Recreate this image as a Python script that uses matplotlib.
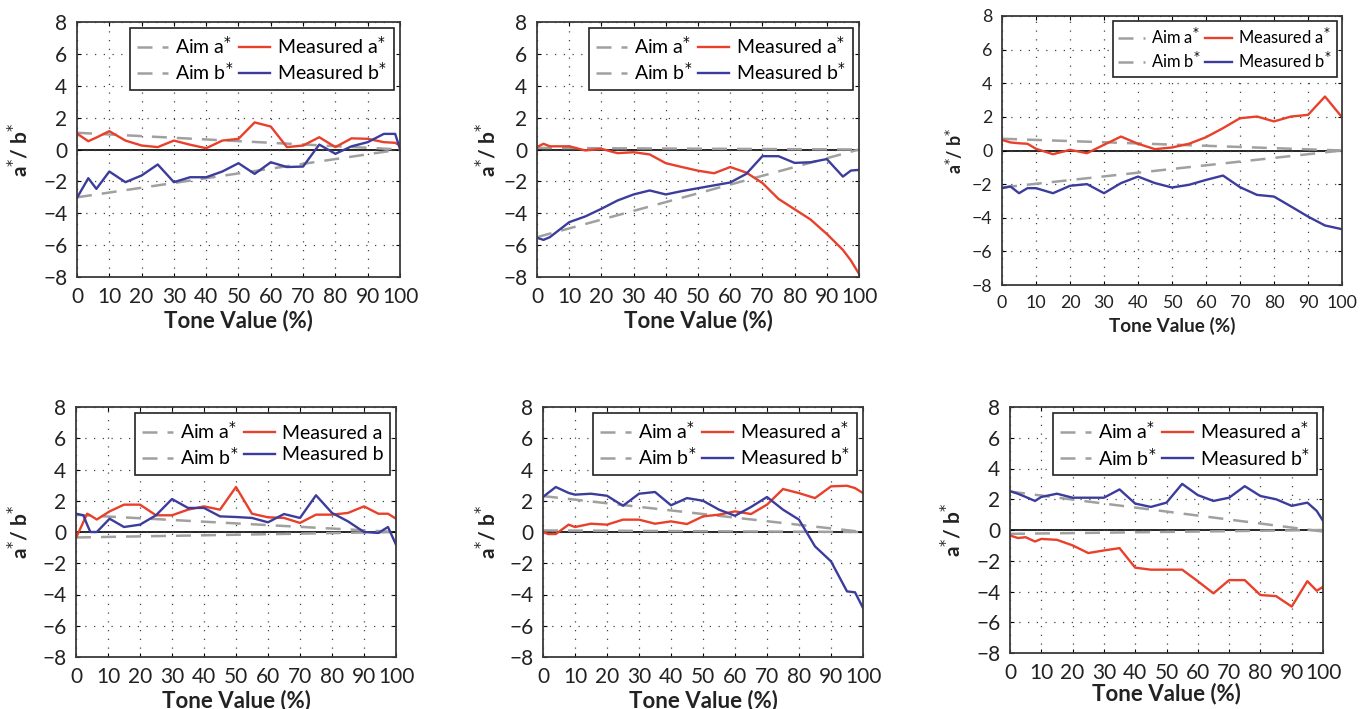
import matplotlib.pyplot as plt

plt.rcParams["font.family"] = ["Lato", "DejaVu Sans"]

# ---- data ----
tone_1 = [0, 3.5, 6, 10, 15, 20, 25, 30, 35, 40, 45, 50, 55, 60, 65, 70, 75, 80, 85, 90, 95, 98.5, 100]
meas_a_1 = [1.0, 0.52, 0.75, 1.15, 0.56, 0.25, 0.15, 0.56, 0.3, 0.08, 0.56, 0.67, 1.7, 1.44, 0.15, 0.25,
            0.77, 0.15, 0.7, 0.67, 0.46, 0.42, 0.25]
meas_b_1 = [-3.03, -1.8, -2.47, -1.38, -2.05, -1.63, -0.94, -2.05, -1.74, -1.74, -1.38, -0.86, -1.53, -0.8,
            -1.1, -1.07, 0.31, -0.27, 0.2, 0.46, 0.98, 0.98, 0.04]

tone_2 = [0, 2, 4, 10, 15, 20, 25, 30, 35, 40, 45, 50, 55, 60, 65, 70, 75, 80, 85, 90, 95, 97.5, 100]
meas_a_2 = [0.15, 0.36, 0.2, 0.2, -0.06, 0.04, -0.23, -0.17, -0.31, -0.86, -1.1, -1.33, -1.49, -1.1, -1.45,
            -2.1, -3.1, -3.75, -4.4, -5.3, -6.3, -6.97, -7.8]
meas_b_2 = [-5.54, -5.67, -5.5, -4.56, -4.2, -3.72, -3.2, -2.82, -2.57, -2.82, -2.61, -2.43, -2.25, -2.07,
            -1.53, -0.42, -0.42, -0.84, -0.8, -0.6, -1.7, -1.32, -1.28]

tone_3 = [0, 2.5, 5, 7.5, 10, 15, 20, 25, 30, 35, 40, 45, 50, 55, 60, 65, 70, 75, 80, 85, 90, 95, 100]
meas_a_3 = [0.63, 0.48, 0.43, 0.4, 0.1, -0.22, 0.04, -0.16, 0.34, 0.83, 0.4, 0.08, 0.18, 0.4, 0.79, 1.33,
            1.92, 2.02, 1.73, 2.02, 2.12, 3.21, 1.98]
meas_b_3 = [-2.24, -2.14, -2.54, -2.24, -2.24, -2.54, -2.1, -2.0, -2.54, -1.94, -1.55, -1.94, -2.2, -2.04,
            -1.75, -1.49, -2.18, -2.64, -2.74, -3.33, -3.93, -4.46, -4.68]

tone_4 = [0, 2.3, 3.5, 4.5, 6.5, 10.5, 15, 20, 25, 30, 35, 40, 45, 50, 55, 60, 65, 70, 75, 80, 85, 90,
          94.5, 97.5, 100]
meas_a_4 = [-0.38, 0.64, 1.17, 1.06, 0.8, 1.32, 1.75, 1.75, 1.07, 1.07, 1.43, 1.64, 1.43, 2.88, 1.17, 0.94,
            0.9, 0.58, 1.11, 1.11, 1.22, 1.64, 1.17, 1.17, 0.85]
meas_b_4 = [1.17, 1.07, 0.46, 0.0, 0.0, 0.85, 0.32, 0.47, 1.07, 2.11, 1.54, 1.54, 1.0, 0.96, 0.9, 0.62,
            1.15, 0.9, 2.35, 1.22, 0.68, 0.0, -0.06, 0.32, -0.81]

tone_5 = [0, 1.6, 4, 8, 10, 15, 20, 25, 30, 35, 40, 45, 50, 55, 60, 65, 70, 75, 80, 85, 90, 95, 97.5, 100]
meas_a_5 = [0.0, -0.13, -0.13, 0.47, 0.32, 0.53, 0.47, 0.79, 0.79, 0.53, 0.68, 0.51, 1.0, 1.11, 1.32, 1.15,
            1.75, 2.75, 2.49, 2.17, 2.92, 2.96, 2.81, 2.49]
meas_b_5 = [2.24, 2.5, 2.88, 2.5, 2.39, 2.45, 2.32, 1.68, 2.45, 2.56, 1.71, 2.17, 2.0, 1.43, 1.04, 1.6,
            2.24, 1.43, 0.79, -0.92, -1.88, -3.8, -3.86, -4.86]

tone_6 = [0, 2.5, 5, 8, 10, 15, 20, 25, 30, 35, 40, 45, 50, 55, 60, 65, 70, 75, 80, 85, 90, 95, 98, 100]
meas_a_6 = [-0.36, -0.52, -0.47, -0.75, -0.58, -0.64, -1.0, -1.5, -1.33, -1.18, -2.45, -2.58, -2.58, -2.58,
            -3.33, -4.12, -3.26, -3.26, -4.23, -4.3, -4.98, -3.33, -3.95, -3.7]
meas_b_6 = [2.53, 2.36, 2.15, 1.89, 2.15, 2.36, 2.1, 2.1, 2.1, 2.64, 1.72, 1.5, 1.78, 3.0, 2.27, 1.89, 2.1,
            2.85, 2.21, 2.0, 1.57, 1.78, 1.24, 0.6]

# aim lines: value at 0 % and at 100 %
aim_tone = [0, 100]
aim_a = [[1.05, 0.0], [0.1, 0.0], [0.7, 0.0], [1.1, 0.0], [0.1, 0.0], [-0.25, 0.0]]
aim_b = [[-3.0, 0.0], [-5.5, 0.0], [-2.2, 0.0], [-0.35, 0.0], [2.3, 0.0], [2.5, -0.1]]

x_ticks = list(range(0, 101, 10))
y_ticks = list(range(-8, 9, 2))

RED = "#e8402a"
BLUE = "#3c3c9c"
GREY = "#a0a0a0"
W, H = 1369, 709

# pixel box (left, right, top, bottom), ylabel right edge, xlabel top, font scale
layout = [
    ((77, 400, 22, 277), -0.139, -0.13, 1.0),
    ((537, 859, 22, 277), -0.115, -0.13, 1.0),
    ((1002, 1342, 16, 285), -0.109, -0.119, 0.85),
    ((76, 396, 407, 657), -0.1375, -0.132, 1.0),
    ((543, 863, 407, 657), -0.134, -0.132, 1.0),
    ((1010, 1323, 407, 653), -0.144, -0.122, 1.0),
]


def draw_panel(fig, i, tone, meas_a, meas_b, label_a, label_b):
    (l, r, t, b), ylx, xly, k = layout[i]
    ax = fig.add_axes([l / W, 1 - b / H, (r - l) / W, (b - t) / H])

    ax.axhline(0, color="black", lw=1.2, zorder=1)
    la, = ax.plot(aim_tone, aim_a[i], color=GREY, lw=1.8, dashes=(6, 4), label="Aim a$^{*}$")
    lb, = ax.plot(aim_tone, aim_b[i], color=GREY, lw=1.8, dashes=(6, 4), label="Aim b$^{*}$")
    ma, = ax.plot(tone, meas_a, color=RED, lw=1.7, label=label_a)
    mb, = ax.plot(tone, meas_b, color=BLUE, lw=1.7, label=label_b)

    ax.set_xlim(0, 100)
    ax.set_ylim(-8, 8)
    ax.set_xticks(x_ticks)
    ax.set_yticks(y_ticks)
    ax.tick_params(direction="in", length=3, labelsize=15 * k, top=True, right=True, pad=7,
                   labelcolor="#222222")
    ax.grid(True, color="#444444", lw=0.9, linestyle=(0, (1, 6)))
    for s in ax.spines.values():
        s.set_color("#3a3a3a")
        s.set_linewidth(1.3)

    ax.set_xlabel("Tone Value (%)", fontsize=16 * k, fontweight="bold", color="#222222")
    ax.set_ylabel("a$^{*}$/ b$^{*}$", fontsize=15 * k, fontweight="bold", color="#222222")
    ax.yaxis.set_label_coords(ylx, 0.5)
    ax.xaxis.set_label_coords(0.5, xly)

    leg = ax.legend(handles=[la, lb, ma, mb], ncol=2, loc="upper right", fontsize=14 * k,
                    fancybox=False, framealpha=1, edgecolor="#222222", borderaxespad=0.3,
                    handlelength=1.6, handletextpad=0.35, columnspacing=0.3,
                    labelspacing=0.25, borderpad=0.35)
    leg.get_frame().set_linewidth(1.2)
    return ax


fig = plt.figure(figsize=(W / 100, H / 100), dpi=100)

draw_panel(fig, 0, tone_1, meas_a_1, meas_b_1, "Measured a$^{*}$", "Measured b$^{*}$")
draw_panel(fig, 1, tone_2, meas_a_2, meas_b_2, "Measured a$^{*}$", "Measured b$^{*}$")
draw_panel(fig, 2, tone_3, meas_a_3, meas_b_3, "Measured a$^{*}$", "Measured b$^{*}$")
draw_panel(fig, 3, tone_4, meas_a_4, meas_b_4, "Measured a", "Measured b")
draw_panel(fig, 4, tone_5, meas_a_5, meas_b_5, "Measured a$^{*}$", "Measured b$^{*}$")
draw_panel(fig, 5, tone_6, meas_a_6, meas_b_6, "Measured a$^{*}$", "Measured b$^{*}$")

fig.savefig("out.png", dpi=100)
